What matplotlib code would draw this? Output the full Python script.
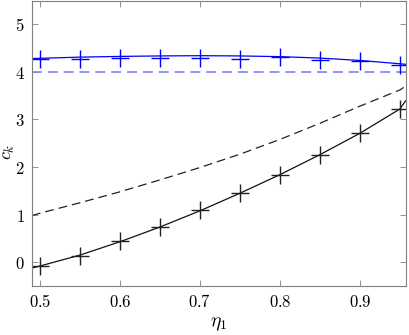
#! /usr/bin/env python3

import matplotlib
matplotlib.use('Agg')
import matplotlib.pyplot as plt
from matplotlib.ticker import FuncFormatter

plt.rcParams['mathtext.fontset'] = 'cm'

# sampled eta_1 values where the markers sit
eta_pts = [0.5, 0.55, 0.6, 0.65, 0.7, 0.75, 0.8, 0.85, 0.9, 0.95]
blue_pts = [4.27, 4.27, 4.29, 4.30, 4.30, 4.27, 4.31, 4.25, 4.23, 4.15]
black_pts = [-0.08, 0.13, 0.44, 0.74, 1.09, 1.46, 1.83, 2.25, 2.71, 3.23]

# curves across the whole x range
eta_line = [0.49, 0.5, 0.55, 0.6, 0.65, 0.7, 0.75, 0.8, 0.85, 0.9, 0.95, 0.957]
blue_line = [4.28, 4.285, 4.31, 4.325, 4.335, 4.34, 4.335, 4.32, 4.29, 4.24, 4.17, 4.16]
black_line = [-0.12, -0.08, 0.15, 0.43, 0.74, 1.08, 1.45, 1.84, 2.26, 2.71, 3.22, 3.39]
black_dash = [0.98, 1.03, 1.25, 1.48, 1.73, 1.99, 2.27, 2.58, 2.92, 3.28, 3.62, 3.70]
blue_dash = [4.0] * len(eta_line)

fig = plt.figure(figsize=(4.09, 3.35), dpi=100)
ax = fig.add_axes([31.7 / 409, 49 / 335, 373.8 / 409, 285.5 / 335])

ax.plot(eta_line, blue_dash, '--', color='#8080ff', lw=1.2, dashes=(6, 3.5))
ax.plot(eta_line, blue_line, '-', color='#0000ff', lw=0.9)
ax.plot(eta_pts, blue_pts, '+', color='#0000ff', ms=13, mew=1.0)
ax.plot(eta_line, black_dash, '--', color='#222222', lw=0.9, dashes=(7, 4))
ax.plot(eta_line, black_line, '-', color='#111111', lw=0.9)
ax.plot(eta_pts, black_pts, '+', color='#222222', ms=13, mew=1.0)

ax.set_xlim(0.4896, 0.957)
ax.set_ylim(-0.5, 5.5)
ax.set_xticks([0.5, 0.6, 0.7, 0.8, 0.9])
ax.set_yticks([0, 1, 2, 3, 4, 5])
ax.xaxis.set_major_formatter(FuncFormatter(lambda v, p: f'${v:.1f}$'))
ax.yaxis.set_major_formatter(FuncFormatter(lambda v, p: f'${v:g}$'))
ax.tick_params(direction='in', length=4, width=0.6, color='#808080',
               top=True, right=True, labelsize=12, pad=5)
for s in ax.spines.values():
    s.set_color('#808080')
    s.set_linewidth(0.8)

ax.set_xlabel(r'$\eta_1$', fontsize=14, labelpad=2)
ax.set_ylabel(r'$c_k$', fontsize=13)
ax.yaxis.set_label_coords(-0.04, 0.47)

plt.savefig('out.png', dpi=100)
